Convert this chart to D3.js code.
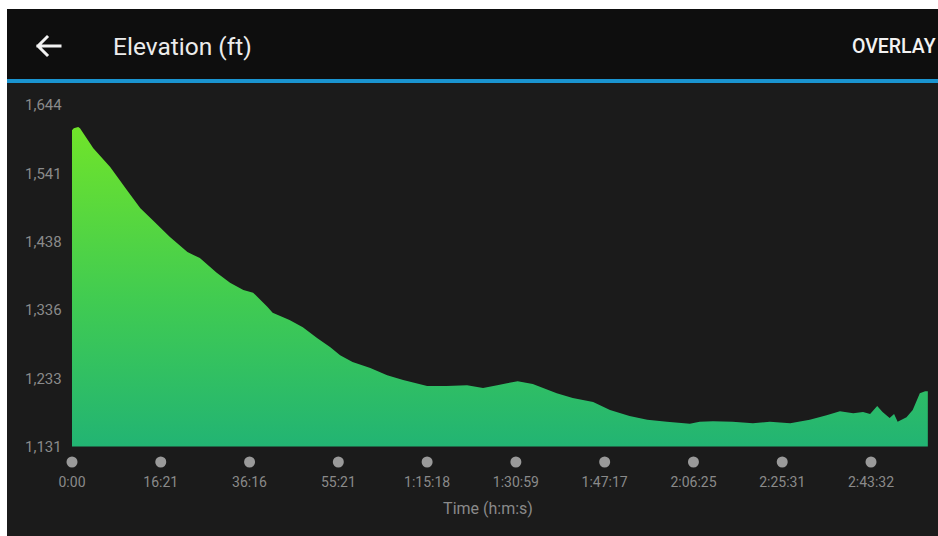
<!DOCTYPE html>
<html>
<head>
<meta charset="utf-8">
<script src="https://cdn.jsdelivr.net/npm/d3@7"></script>
<style>
  body { margin: 0; background: #fff; }
  svg { display: block; font-family: Roboto, "Noto Sans", sans-serif; }
</style>
</head>
<body>
<div id="chart"></div>
<script>
// progress along the activity, in tick intervals (ticks are evenly spaced)
const progress = [
  0, 0.02, 0.07, 0.09, 0.24, 0.43, 0.62, 0.77, 0.91, 1.10,
  1.30, 1.44, 1.63, 1.78, 1.93, 2.04, 2.20, 2.26, 2.45, 2.60,
  2.76, 2.91, 3.02, 3.16, 3.36, 3.55, 3.73, 4.00, 4.22, 4.45,
  4.63, 4.79, 4.90, 5.02, 5.19, 5.46, 5.64, 5.87, 6.06, 6.28,
  6.48, 6.70, 6.96, 7.07, 7.22, 7.44, 7.67, 7.86, 8.09, 8.31,
  8.50, 8.65, 8.80, 8.91, 8.99, 9.07, 9.13, 9.21, 9.26, 9.30,
  9.40, 9.47, 9.55, 9.61, 9.64
]

// elevation in feet
const elevation = [
  1606, 1609, 1611, 1609, 1579, 1551, 1516, 1489, 1471, 1446,
  1423, 1414, 1392, 1377, 1366, 1362, 1341, 1332, 1321, 1310,
  1294, 1280, 1268, 1258, 1249, 1238, 1231, 1222, 1222, 1223,
  1219, 1223, 1226, 1229, 1225, 1211, 1204, 1198, 1186, 1177,
  1171, 1168, 1165, 1168, 1169, 1168, 1166, 1168, 1166, 1171,
  1178, 1184, 1181, 1183, 1180, 1192, 1183, 1174, 1180, 1168,
  1175, 1186, 1211, 1214, 1214
]

const yTicks = [1131, 1233, 1336, 1438, 1541, 1644]
const xTickLabels = [
  "0:00", "16:21", "36:16", "55:21", "1:15:18",
  "1:30:59", "1:47:17", "2:06:25", "2:25:31", "2:43:32"
]

const width = 938
const height = 536

const svg = d3
  .select("#chart")
  .append("svg")
  .attr("width", width)
  .attr("height", height)

/*
 * background panels
 */
svg.append("rect").attr("x", 7).attr("y", 9).attr("width", width - 7).attr("height", 70).attr("fill", "#0e0e0e")
svg.append("rect").attr("x", 7).attr("y", 79).attr("width", width - 7).attr("height", 4).attr("fill", "#1a94d0")
svg.append("rect").attr("x", 7).attr("y", 83).attr("width", width - 7).attr("height", height - 83).attr("fill", "#1b1b1b")

/*
 * header
 */
svg.append("path")
  .attr("d", "M60,46 H38 M47,37 L38,46 L47,55")
  .attr("fill", "none")
  .attr("stroke", "#f2f2f2")
  .attr("stroke-width", 3)
  .attr("stroke-linecap", "square")

svg.append("text")
  .attr("x", 113)
  .attr("y", 55)
  .attr("fill", "#ececec")
  .attr("font-size", 24.5)
  .text("Elevation (ft)")

svg.append("text")
  .attr("x", 852)
  .attr("y", 53)
  .attr("fill", "#f2f2f2")
  .attr("font-size", 19.5)
  .attr("font-weight", 500)
  .text("OVERLAY")

/*
 * scales
 */
const x = d3.scaleLinear().domain([0, 9]).range([72, 871])
const y = d3.scaleLinear().domain([1131, 1644]).range([446.5, 105])

const defs = svg.append("defs")
const grad = defs.append("linearGradient")
  .attr("id", "elevFill")
  .attr("gradientUnits", "userSpaceOnUse")
  .attr("x1", 0).attr("x2", 0)
  .attr("y1", y(1611)).attr("y2", y(1131))
grad.append("stop").attr("offset", "0%").attr("stop-color", "#70e42a")
grad.append("stop").attr("offset", "55%").attr("stop-color", "#40cb52")
grad.append("stop").attr("offset", "100%").attr("stop-color", "#22b473")

const points = progress.map((p, i) => [p, elevation[i]])

const area = d3.area()
  .x((d) => x(d[0]))
  .y0(y(1131))
  .y1((d) => y(d[1]))

svg.append("path")
  .datum(points)
  .attr("d", area)
  .attr("fill", "url(#elevFill)")

/*
 * y labels
 */
svg.append("g")
  .selectAll("text")
  .data(yTicks)
  .join("text")
  .attr("x", 25)
  .attr("y", (d) => y(d))
  .attr("dy", "0.35em")
  .attr("fill", "#8a8a8a")
  .attr("font-size", 15)
  .text((d) => d3.format(",")(d))

/*
 * x ticks: dots + labels
 */
const xt = svg.append("g")
  .selectAll("g")
  .data(xTickLabels)
  .join("g")
  .attr("transform", (d, i) => `translate(${x(i)},0)`)

xt.append("circle")
  .attr("cy", 462)
  .attr("r", 5.5)
  .attr("fill", "#9a9a9a")

xt.append("text")
  .attr("y", 482)
  .attr("dy", "0.35em")
  .attr("text-anchor", "middle")
  .attr("fill", "#8a8a8a")
  .attr("font-size", 14)
  .text((d) => d)

svg.append("text")
  .attr("x", 488)
  .attr("y", 508)
  .attr("dy", "0.35em")
  .attr("text-anchor", "middle")
  .attr("fill", "#8a8a8a")
  .attr("font-size", 16)
  .text("Time (h:m:s)")
</script>
</body>
</html>
